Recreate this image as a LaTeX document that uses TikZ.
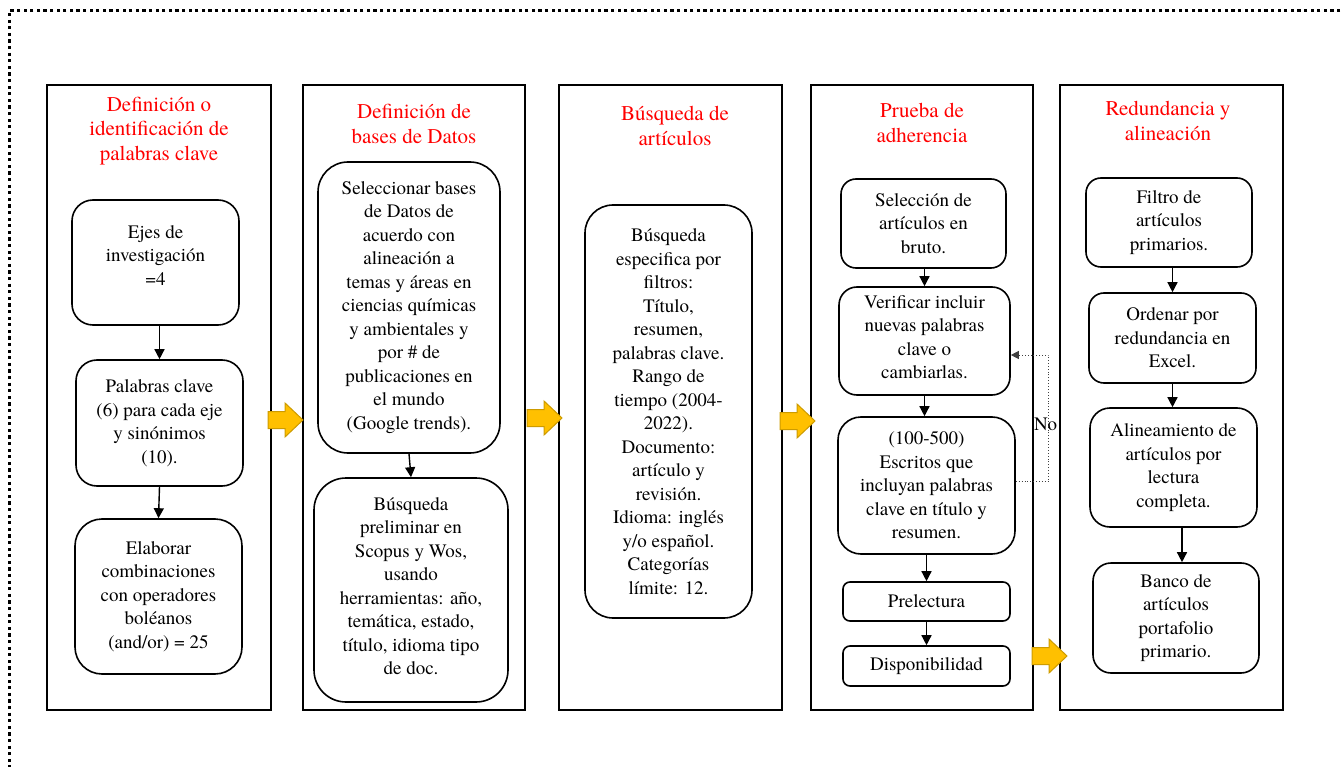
\documentclass[tikz,border=0pt]{standalone}
\usepackage{fontspec}
\IfFontExistsTF{TeX Gyre Termes}{\setmainfont{TeX Gyre Termes}}{\setmainfont{Liberation Serif}}
\usetikzlibrary{arrows.meta}
\definecolor{titlered}{RGB}{255,0,0}
\definecolor{goldfill}{RGB}{255,192,0}
\definecolor{goldline}{RGB}{205,155,0}
\newcommand\boxfont{\fontsize{19}{23.5}\selectfont}
\newcommand\headfont{\fontsize{21}{24.5}\selectfont}

\begin{document}
\begin{tikzpicture}[x=1pt,y=-1pt,
  column/.style={draw, line width=1.8pt, inner sep=0pt, minimum height=625pt},
  head/.style={text=titlered, font=\headfont, align=center, inner sep=0pt},
  rbox/.style={draw, line width=1.6pt, align=center, inner sep=0pt, font=\boxfont},
  boxtext/.style={align=center, inner sep=0pt, font=\boxfont},
  flow/.style={line width=1.4pt, -{Triangle[length=10pt,width=10pt]}},
  back/.style={line width=0.9pt, dotted, draw=black!75, -{Triangle[length=8pt,width=8pt]}},
  blockarrow/.pic={\filldraw[fill=goldfill, draw=goldline, line width=1pt]
    (0,-8.5) -- (17,-8.5) -- (17,-17) -- (35,0) -- (17,17) -- (17,8.5) -- (0,8.5) -- cycle;}
]
\useasboundingbox (0,0) rectangle (1344,767);

% dotted frame, running off the page to the right and bottom
\draw[line width=3pt, dash pattern=on 3.3pt off 3.3pt] (1360,11) -- (9,11) -- (9,790);

% the five stage columns
\node[column, minimum width=224pt] (c1) at (159,397.5) {};
\node[column, minimum width=222pt] (c2) at (414,397.5) {};
\node[column, minimum width=223pt] (c3) at (670.5,397.5) {};
\node[column, minimum width=222pt] (c4) at (922,397.5) {};
\node[column, minimum width=223pt] (c5) at (1171.5,397.5) {};

% stage headings
\node[head] (h1) at (159,131) {Definición o\\identificación de\\palabras clave};
\node[head] (h2) at (414,124) {Definición de\\bases de Datos};
\node[head] (h3) at (675,126) {Búsqueda de\\artículos};
\node[head] (h4) at (922,123) {Prueba de\\adherencia};
\node[head] (h5) at (1168,121) {Redundancia y\\alineación};

% stage 1
\node[rbox, minimum width=167pt, minimum height=125pt, rounded corners=21pt] (b1) at (155.5,262.5) {};
\node[boxtext] (b1t) at ([yshift=7pt]b1.center) {Ejes de\\investigación\\=4};
\node[rbox, minimum width=167pt, minimum height=126pt, rounded corners=21pt] (b2) at (159.5,423)
  {Palabras clave\\(6) para cada eje\\y sinónimos\\(10).};
\node[rbox, minimum width=167pt, minimum height=155pt, rounded corners=27pt] (b3) at (158.5,596.5)
  {Elaborar\\combinaciones\\con operadores\\boléanos\\(and/or) = 25};

% stage 2
\node[rbox, minimum width=182pt, minimum height=291pt, rounded corners=30pt] (d1) at (409,307.5)
  {Seleccionar bases\\de Datos de\\acuerdo con\\alineación a\\temas y áreas en\\ciencias químicas\\y ambientales y\\por \# de\\publicaciones en\\el mundo\\(Google trends).};
\node[rbox, minimum width=194pt, minimum height=224pt, rounded corners=32pt] (d2) at (411,590) {};
\node[boxtext] (d2t) at ([yshift=4pt]d2.center)
  {Búsqueda\\preliminar en\\Scopus y Wos,\\usando\\herramientas: año,\\temática, estado,\\título, idioma tipo\\de doc.};

% stage 3
\node[rbox, minimum width=167pt, minimum height=413pt, rounded corners=28pt] (s1) at (668.5,411.5)
  {Búsqueda\\especifica por\\filtros:\\Título,\\resumen,\\palabras clave.\\Rango de\\tiempo (2004-\\2022).\\Documento:\\artículo y\\revisión.\\Idioma: inglés\\y/o español.\\Categorías\\límite: 12.};

% stage 4
\node[rbox, minimum width=165pt, minimum height=89pt, rounded corners=15pt] (e1) at (923.5,223.5)
  {Selección de\\artículos en\\bruto.};
\node[rbox, minimum width=171pt, minimum height=108pt, rounded corners=18pt] (e2) at (924.5,341) {};
\node[boxtext] (e2t) at ([yshift=4pt]e2.center)
  {Verificar incluir\\nuevas palabras\\clave o\\cambiarlas.};
\node[rbox, minimum width=177pt, minimum height=137pt, rounded corners=23pt] (e3) at (926.5,485.5)
  {(100-500)\\Escritos que\\incluyan palabras\\clave en título y\\resumen.};
\node[rbox, minimum width=167pt, minimum height=39pt, rounded corners=7pt] (e4) at (926.5,601.5)
  {Prelectura};
\node[rbox, minimum width=167pt, minimum height=40pt, rounded corners=7pt] (e5) at (926.5,666)
  {Disponibilidad};

% stage 5
\node[rbox, minimum width=166pt, minimum height=89pt, rounded corners=15pt] (f1) at (1169,222.5)
  {Filtro de\\artículos\\primarios.};
\node[rbox, minimum width=167pt, minimum height=90pt, rounded corners=15pt] (f2) at (1172.5,338)
  {Ordenar por\\redundancia en\\Excel.};
\node[rbox, minimum width=167pt, minimum height=119pt, rounded corners=20pt] (f3) at (1173.5,467.5)
  {Alineamiento de\\artículos por\\lectura\\completa.};
\node[rbox, minimum width=166pt, minimum height=110pt, rounded corners=18pt] (f4) at (1176,618)
  {Banco de\\artículos\\portafolio\\primario.};

% flow inside the stages
\draw[flow] (b2.north |- b1.south) -- (b2.north);
\draw[flow] (b2.south) -- (b3.north);
\draw[flow] (d1.south) -- (d2.north);
\draw[flow] (e2.north |- e1.south) -- (e2.north);
\draw[flow] (e2.south) -- (e2.south |- e3.north);
\draw[flow] (e3.south) -- (e4.north);
\draw[flow] (e4.south) -- (e5.north);
\draw[flow] (f2.north |- f1.south) -- (f2.north);
\draw[flow] (f2.south) -- (f2.south |- f3.north);
\draw[flow] ([xshift=6pt]f4.north |- f3.south) -- ([xshift=6pt]f4.north);

% loop back when the keywords fail
\draw[back] ([yshift=4pt]e3.east) -- ++(33,0) |- ([yshift=-14pt]e2.east);
\node[font=\boxfont, inner sep=0pt, anchor=west] (no) at (1034,424) {No};

% block arrows between stages
\pic at (268,420) {blockarrow};
\pic at (527,418) {blockarrow};
\pic at (780,421) {blockarrow};
\pic at (1032,656) {blockarrow};
\end{tikzpicture}
\end{document}
